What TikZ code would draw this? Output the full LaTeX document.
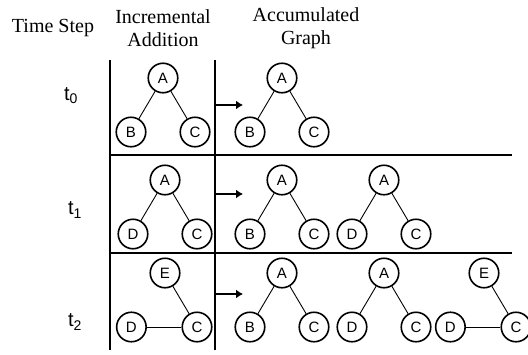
\documentclass[tikz,border=0pt]{standalone}
\usepackage{fontspec}
\setmainfont{Liberation Serif}
\newfontfamily\arialfont{Liberation Sans}
\usetikzlibrary{positioning,arrows.meta}
\begin{document}
\begin{tikzpicture}[x=1pt,y=-1pt,
				vertex/.style={circle,draw,line width=1.6pt,minimum size=29.5pt,inner sep=0pt,font=\arialfont\fontsize{15}{15}\selectfont},
				every child node/.style={vertex},
				edge from parent/.style={draw,line width=0.9pt},
				level distance=54pt,
				sibling distance=64pt,
				heading/.style={align=center,font=\fontsize{20}{23}\selectfont},
				steplabel/.style={font=\arialfont\fontsize{20}{20}\selectfont},
				divider/.style={line width=2.6pt},
				addarrow/.style={line width=1.5pt,-{Latex[length=7pt,width=9pt]}}]
\useasboundingbox (0,0) rectangle (528,354);
% headings
\node[heading] (timehead) at (53,28) {Time Step};
\node[heading] (inchead) at (163,28.5) {Incremental\\Addition};
\node[heading] (acchead) at (306,28.5) {Accumulated\\Graph};
\node[steplabel] (t0) at (71,96) {t\textsubscript{0}};
\node[steplabel] (t1) at (75,210) {t\textsubscript{1}};
\node[steplabel] (t2) at (75,322) {t\textsubscript{2}};
% table lines
\draw[divider] (110,60) -- (110,350);
\draw[divider] (215,60) -- (215,350);
\draw[divider] (110,155) -- (512,155);
\draw[divider] (110,253) -- (512,253);
% t0
\node[vertex] (inc0) at (163,78) {A}
child { node (inc0b) {B} }
child { node (inc0c) {C} };
\node[vertex] (acc0) at (282,78) {A}
child { node (acc0b) {B} }
child { node (acc0c) {C} };
% t1
\node[vertex] (inc1) at (165,180) {A}
child { node (inc1d) {D} }
child { node (inc1c) {C} };
\node[vertex] (acc1) at (282,180) {A}
child { node (acc1b) {B} }
child { node (acc1c) {C} };
\node[vertex] (acc1x) at (384,180) {A}
child { node (acc1xd) {D} }
child { node (acc1xc) {C} };
% t2
\node[vertex] (inc2) at (165,273) {E}
child[missing]
child { node (inc2c) {C} };
\node[vertex, left=34.5pt of inc2c] (inc2d) {D};
\draw[line width=0.9pt] (inc2d) -- (inc2c);
\node[vertex] (acc2) at (282,273) {A}
child { node (acc2b) {B} }
child { node (acc2c) {C} };
\node[vertex] (acc2x) at (384,273) {A}
child { node (acc2xd) {D} }
child { node (acc2xc) {C} };
\node[vertex] (acc2y) at (484,273) {E}
child[missing]
child { node (acc2yc) {C} };
\node[vertex, left=34.5pt of acc2yc] (acc2yd) {D};
\draw[line width=0.9pt] (acc2yd) -- (acc2yc);
% arrows
\coordinate (from0) at (216,105);
\coordinate (to0) at (243,105);
\coordinate (from1) at (216,194);
\coordinate (to1) at (243,194);
\coordinate (from2) at (216,294);
\coordinate (to2) at (243,294);
\draw[addarrow] (from0) -- (to0);
\draw[addarrow] (from1) -- (to1);
\draw[addarrow] (from2) -- (to2);
\end{tikzpicture}
\end{document}
